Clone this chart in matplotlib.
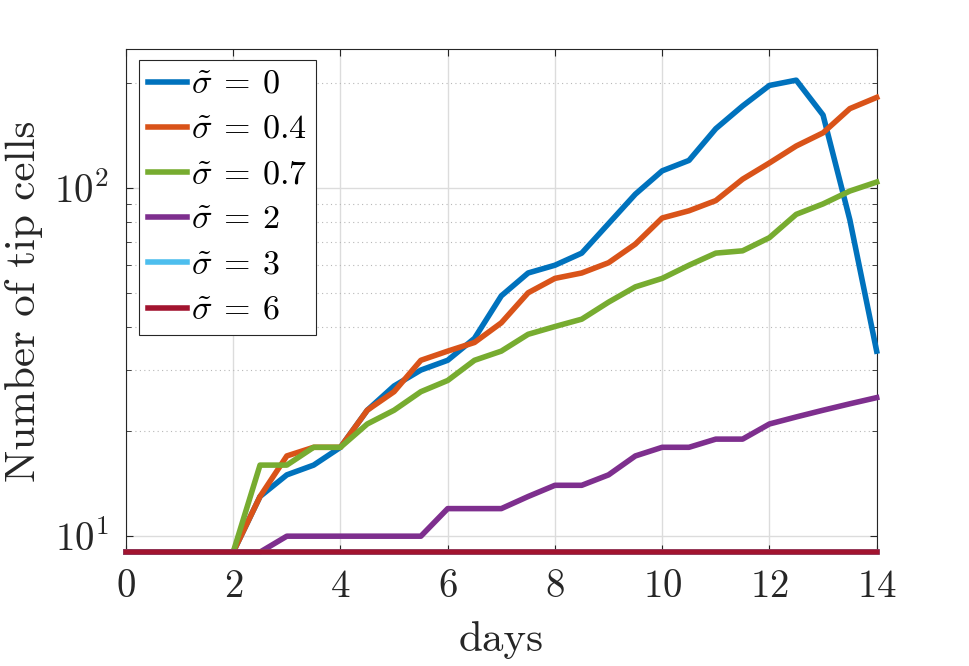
import matplotlib
matplotlib.use("Agg")
import matplotlib.pyplot as plt
from matplotlib.ticker import LogLocator, NullFormatter

# time points (days)
days = [0, 0.5, 1, 1.5, 2, 2.5, 3, 3.5, 4, 4.5, 5, 5.5, 6, 6.5, 7,
        7.5, 8, 8.5, 9, 9.5, 10, 10.5, 11, 11.5, 12, 12.5, 13, 13.5, 14]

# number of tip cells for each sigma (values below the axis floor shown at 9)
tips_s0 = [9, 9, 9, 9, 9, 13, 15, 16, 18, 23, 27, 30, 32, 37, 49,
           57, 60, 65, 79, 96, 112, 120, 148, 172, 197, 204, 162, 81, 34]
tips_s04 = [9, 9, 9, 9, 9, 13, 17, 18, 18, 23, 26, 32, 34, 36, 41,
            50, 55, 57, 61, 69, 82, 86, 92, 106, 118, 132, 144, 169, 182]
tips_s07 = [9, 9, 9, 9, 9, 16, 16, 18, 18, 21, 23, 26, 28, 32, 34,
            38, 40, 42, 47, 52, 55, 60, 65, 66, 72, 84, 90, 98, 104]
tips_s2 = [9, 9, 9, 9, 9, 9, 10, 10, 10, 10, 10, 10, 12, 12, 12,
           13, 14, 14, 15, 17, 18, 18, 19, 19, 21, 22, 23, 24, 25]
tips_s3 = [9] * len(days)
tips_s6 = [9] * len(days)

labels = [r"$\tilde{\sigma}\:=\:0$", r"$\tilde{\sigma}\:=\:0.4$",
          r"$\tilde{\sigma}\:=\:0.7$", r"$\tilde{\sigma}\:=\:2$",
          r"$\tilde{\sigma}\:=\:3$", r"$\tilde{\sigma}\:=\:6$"]
series = [tips_s0, tips_s04, tips_s07, tips_s2, tips_s3, tips_s6]
colors = ["#0072BD", "#D95319", "#77AC30", "#7E2F8E", "#4DBEEE", "#A2142F"]

plt.rcParams["font.family"] = "serif"
plt.rcParams["font.serif"] = ["cmr10"]
plt.rcParams["mathtext.fontset"] = "cm"
plt.rcParams["axes.formatter.use_mathtext"] = True

fig = plt.figure(figsize=(9.69, 6.66), dpi=100)
ax = fig.add_axes([0.130, 0.171, 0.7747, 0.7548])

for vals, lab, col in zip(series, labels, colors):
    ax.plot(days, vals, color=col, linewidth=4.0, label=lab,
            clip_on=False, zorder=3)

ax.set_yscale("log")
ax.set_xlim(0, 14)
ax.set_ylim(9, 250)
ax.set_xticks(range(0, 15, 2))
ax.yaxis.set_major_locator(LogLocator(base=10))
ax.yaxis.set_minor_locator(LogLocator(base=10, subs=range(2, 10)))
ax.yaxis.set_minor_formatter(NullFormatter())

# matlab-like grid and box
ax.grid(True, which="major", color="#dcdcdc", linewidth=1.0, linestyle="-")
ax.grid(True, which="minor", axis="y", color="#b8b8b8", linewidth=0.8,
        linestyle=(0, (1, 3)))
ax.set_axisbelow(True)
for sp in ax.spines.values():
    sp.set_color("#262626")
    sp.set_linewidth(0.8)
ax.tick_params(which="both", direction="in", top=True, right=True,
               colors="#262626", labelsize=28, pad=12)
ax.tick_params(which="major", length=5)
ax.tick_params(which="minor", length=3.5)

ax.set_xlabel("days", fontsize=31, color="#262626", labelpad=12)
ax.set_ylabel("Number of tip cells", fontsize=31, color="#262626", labelpad=8)

leg = ax.legend(loc="upper left", bbox_to_anchor=(0.017, 0.978),
                borderaxespad=0, fontsize=24.5, handlelength=1.15,
                handletextpad=0.1, labelspacing=0.45, borderpad=0.28,
                fancybox=False, framealpha=1, edgecolor="#262626")
leg.get_frame().set_linewidth(0.8)
leg.set_zorder(5)

fig.savefig("out.png", dpi=100)
